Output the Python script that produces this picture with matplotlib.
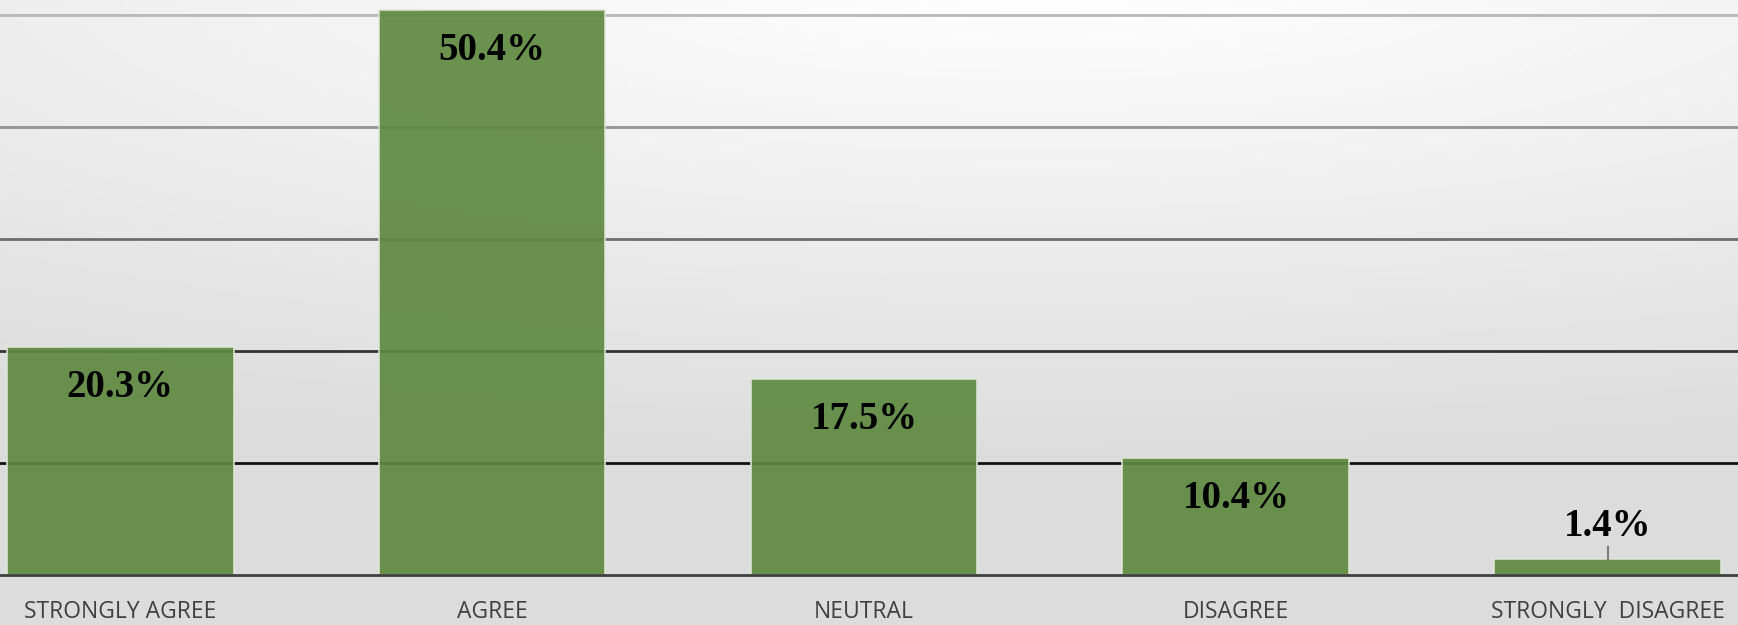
import matplotlib.pyplot as plt
import numpy as np

# dados
categorias = ["STRONGLY AGREE", "AGREE", "NEUTRAL", "DISAGREE", "STRONGLY  DISAGREE"]
valores = [20.3, 50.4, 17.5, 10.4, 1.4]
rotulos = ["20.3%", "50.4%", "17.5%", "10.4%", "1.4%"]
linhas_grade = [10, 20, 30, 40, 50]
cores_grade = ["#111111", "#333333", "#6e6e6e", "#949494", "#b8b8b8"]

fig = plt.figure(figsize=(17.38, 6.25), dpi=100)

# fundo em degrade (claro no topo central, cinza embaixo a esquerda)
fundo = fig.add_axes([0, 0, 1, 1])
yy, xx = np.mgrid[0:1:200j, 0:1:400j]
d = np.sqrt(((xx - 0.6) * 1.0) ** 2 + ((yy - 1.05) * 1.5) ** 2)
fundo.imshow(1 - 0.14 * np.clip(d / 1.2, 0, 1), cmap="gray", vmin=0, vmax=1,
             extent=[0, 1, 0, 1], origin="lower", aspect="auto")
fundo.axis("off")

ax = fig.add_axes([0, 0.08, 1, 0.92])
ax.set_facecolor("none")
x = np.arange(len(categorias))

for g, c in zip(linhas_grade, cores_grade):
    ax.axhline(g, color=c, lw=2, zorder=1)

barras = ax.bar(x, valores, width=0.61, color="#5e8a40", alpha=0.92,
                edgecolor="#dfe8d6", linewidth=1.2, zorder=2)

for i, (v, r) in enumerate(zip(valores, rotulos)):
    if v > 5:
        ax.text(i, v - 3.6, r, ha="center", va="center", fontsize=28,
                fontweight="bold", family="Liberation Serif", zorder=3)
    else:
        ax.plot([i, i], [v, v + 1.1], color="#7f7f7f", lw=1.5, zorder=3)
        ax.text(i, v + 2.9, r, ha="center", va="center", fontsize=28,
                fontweight="bold", family="Liberation Serif", zorder=3)

ax.set_xlim(-0.323, 4.35)
ax.set_ylim(0, 51.3)
ax.set_yticks([])
ax.set_xticks(x)
ax.set_xticklabels(categorias, fontsize=16.5, color="#404040", family="Open Sans")
ax.tick_params(axis="x", length=0, pad=18)
for s in ["top", "left", "right"]:
    ax.spines[s].set_visible(False)
ax.spines["bottom"].set_color("#404040")
ax.spines["bottom"].set_linewidth(2)
ax.spines["bottom"].set_zorder(4)

plt.savefig("out.png", dpi=100)
